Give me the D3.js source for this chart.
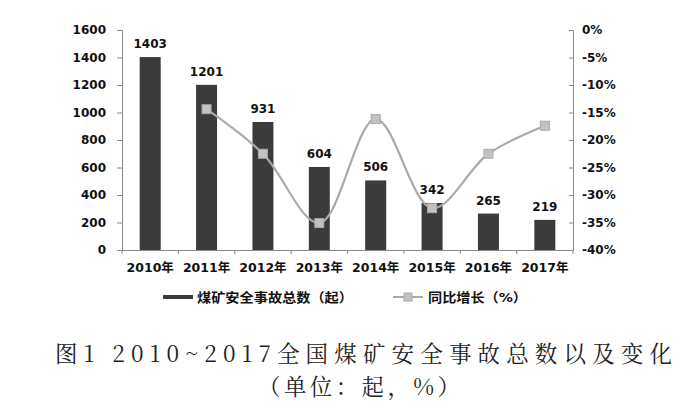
<!DOCTYPE html>
<html><head><meta charset="utf-8">
<script src="https://cdn.jsdelivr.net/npm/d3@7"></script>
<style>body{margin:0;background:#fff}</style>
</head><body>
<svg id="c" width="693" height="406"></svg>
<script>
const categories = ["2010年","2011年","2012年","2013年","2014年","2015年","2016年","2017年"];
const totals = [1403,1201,931,604,506,342,265,219];
const growth = [null,-14.4,-22.5,-35.1,-16.2,-32.4,-22.5,-17.4];
const leftTicks = [0,200,400,600,800,1000,1200,1400,1600];
const rightTicks = [0,-5,-10,-15,-20,-25,-30,-35,-40];
const seriesNames = ["煤矿安全事故总数（起）","同比增长（%）"];
const captionLines = ["图1 2010~2017全国煤矿安全事故总数以及变化","（单位：起，%）"];

const svg = d3.select("#c");
const L = 122, R = 573, T = 30, B = 250;
const font = "'DejaVu Sans','Noto Sans CJK SC',sans-serif";
const x = d3.scaleBand().domain(categories).range([L, R]);
const y = d3.scaleLinear().domain([0,1600]).range([B, T]);
const y2 = d3.scaleLinear().domain([-40,0]).range([B, T]);

// bars
svg.selectAll("rect.bar").data(totals).join("rect")
  .attr("x",(d,i)=>x(categories[i])+x.bandwidth()/2-10.5)
  .attr("y",d=>y(d)).attr("width",21).attr("height",d=>B-y(d))
  .attr("fill","#3b3b3b");
svg.selectAll("text.lab").data(totals).join("text")
  .attr("x",(d,i)=>x(categories[i])+x.bandwidth()/2)
  .attr("y",d=>y(d)-9).attr("text-anchor","middle")
  .attr("font-family",font).attr("font-size",12).attr("font-weight","bold")
  .attr("fill","#111").text(d=>d);

// axes
const gl = svg.append("g").attr("transform",`translate(${L},0)`)
  .call(d3.axisLeft(y).tickValues(leftTicks).tickSize(5).tickPadding(11).tickFormat(d3.format("d")));
const gr = svg.append("g").attr("transform",`translate(${R},0)`)
  .call(d3.axisRight(y2).tickValues(rightTicks).tickSize(-4).tickPadding(9).tickFormat(d=>d+"%"));
const gb = svg.append("g").attr("transform",`translate(0,${B})`)
  .call(d3.axisBottom(x).tickSize(0).tickPadding(13));
gb.selectAll(".tick").append("line").attr("x1",-x.bandwidth()/2).attr("x2",-x.bandwidth()/2).attr("y2",4).attr("stroke","#888");
gb.append("line").attr("x1",R).attr("x2",R).attr("y2",4).attr("stroke","#888");
[gl,gr,gb].forEach(g=>{
  g.selectAll("path").attr("stroke","#888");
  g.selectAll(".tick line").attr("stroke","#888");
  g.selectAll("text").attr("font-family",font).attr("font-size",12).attr("font-weight","bold").attr("fill","#111");
});
gr.selectAll("text").attr("x",9);
gb.selectAll("text").attr("font-size",12.5);

// line
const pts = growth.map((g,i)=>({g,i})).filter(d=>d.g!==null);
const line = d3.line().x(d=>x(categories[d.i])+x.bandwidth()/2).y(d=>y2(d.g)).curve(d3.curveCatmullRom.alpha(0.5));
svg.append("path").datum(pts).attr("d",line).attr("fill","none").attr("stroke","#aaaaaa").attr("stroke-width",2.2);
svg.selectAll("rect.m").data(pts).join("rect")
  .attr("x",d=>x(categories[d.i])+x.bandwidth()/2-4.5).attr("y",d=>y2(d.g)-4.5)
  .attr("width",9).attr("height",9).attr("fill","#c2c2c2").attr("stroke","#a8a8a8").attr("stroke-width",1);

// legend
svg.append("rect").attr("x",163).attr("y",295).attr("width",30).attr("height",4).attr("fill","#3b3b3b");
svg.append("text").attr("x",197).attr("y",302).attr("font-family",font).attr("font-size",13).attr("font-weight","bold").attr("fill","#111")
  .attr("textLength",156).attr("lengthAdjust","spacingAndGlyphs").text(seriesNames[0]);
svg.append("line").attr("x1",393).attr("x2",423).attr("y1",297).attr("y2",297).attr("stroke","#aaaaaa").attr("stroke-width",2);
svg.append("rect").attr("x",404).attr("y",293).attr("width",8).attr("height",8).attr("fill","#c2c2c2").attr("stroke","#a8a8a8");
svg.append("text").attr("x",428).attr("y",302).attr("font-family",font).attr("font-size",13).attr("font-weight","bold").attr("fill","#111")
  .attr("textLength",99).attr("lengthAdjust","spacingAndGlyphs").text(seriesNames[1]);

// caption
const capX = [55, 258], capW = [617, 202], capY = [362, 395];
svg.selectAll("text.cap").data(captionLines).join("text")
  .attr("x",(d,i)=>capX[i]).attr("y",(d,i)=>capY[i])
  .attr("textLength",(d,i)=>capW[i]).attr("lengthAdjust","spacing")
  .attr("font-family","'Noto Serif CJK SC','Noto Sans CJK SC',serif").attr("font-size",22.5).attr("fill","#222")
  .text(d=>d);
</script>
</body></html>
